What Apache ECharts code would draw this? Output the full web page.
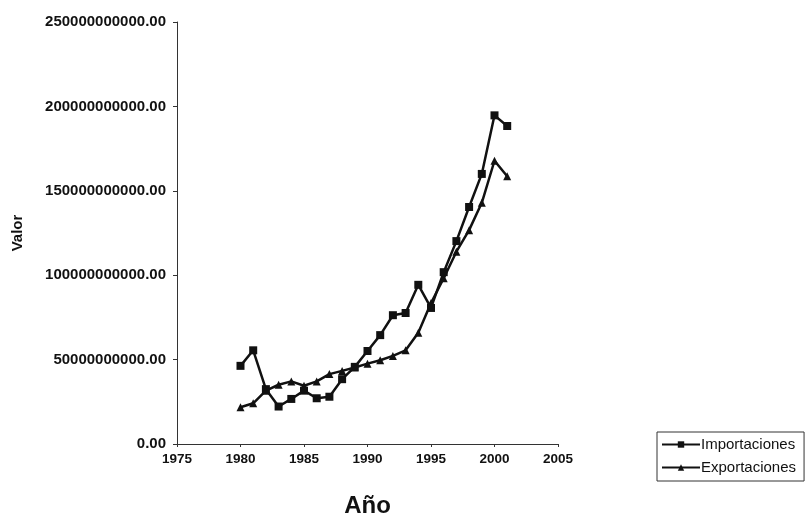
<!DOCTYPE html>
<html>
<head>
<meta charset="utf-8">
<script src="https://cdn.jsdelivr.net/npm/echarts@6/dist/echarts.min.js"></script>
<style>
  html, body { margin: 0; padding: 0; background: #fff; }
  #main { width: 809px; height: 523px; }
</style>
</head>
<body>
<div id="main"></div>
<script>
// data (billions)
const years = [1980, 1981, 1982, 1983, 1984, 1985, 1986, 1987, 1988, 1989, 1990,
  1991, 1992, 1993, 1994, 1995, 1996, 1997, 1998, 1999, 2000, 2001]
const importaciones = [46.3, 55.5, 32.5, 22.2, 26.7, 31.6, 27.1, 28.0, 38.4, 45.7, 55.1,
  64.5, 76.3, 77.6, 94.3, 80.6, 101.8, 120.2, 140.4, 160.0, 194.7, 188.4]
const exportaciones = [21.8, 24.1, 31.6, 35.1, 37.1, 34.5, 37.1, 41.4, 43.3, 45.3, 47.6,
  49.6, 52.2, 55.5, 65.9, 83.5, 98.2, 113.9, 126.7, 142.9, 167.8, 158.6]

const toPoints = vals => years.map((y, i) => [y, vals[i] * 1e9])

const font = "Arial, 'Liberation Sans', sans-serif"

const options = {
  animation: false,
  backgroundColor: "#fff",
  grid: { left: 177, right: 251, top: 22, bottom: 76 },
  xAxis: {
    type: "value",
    min: 1975, max: 2005, interval: 5,
    name: "Año",
    nameLocation: "middle",
    nameGap: 50,
    nameTextStyle: { fontFamily: font, fontSize: 24, fontWeight: "bold", color: "#111" },
    axisLine: { lineStyle: { color: "#333", width: 1 } },
    axisTick: { show: true, length: 3, inside: false, lineStyle: { color: "#333" } },
    splitLine: { show: false },
    axisLabel: {
      fontFamily: font, fontSize: 13.5, fontWeight: "bold", color: "#111", margin: 8,
      formatter: v => String(v)
    }
  },
  yAxis: {
    type: "value",
    min: 0, max: 250e9, interval: 50e9,
    name: "Valor",
    nameLocation: "middle",
    nameGap: 152,
    nameTextStyle: { fontFamily: font, fontSize: 15, fontWeight: "bold", color: "#111" },
    axisLine: { show: true, lineStyle: { color: "#333", width: 1 } },
    axisTick: { show: true, length: 4, lineStyle: { color: "#333" } },
    splitLine: { show: false },
    axisLabel: {
      fontFamily: font, fontSize: 15, fontWeight: "bold", color: "#111", margin: 11,
      formatter: v => v.toFixed(2)
    }
  },
  legend: {
    orient: "vertical",
    left: 657, top: 432,
    padding: [5, 8, 6, 4],
    itemGap: 8,
    itemWidth: 38, itemHeight: 8,
    borderColor: "#333", borderWidth: 1,
    textStyle: { fontFamily: font, fontSize: 15, color: "#111", padding: [0, 0, 0, -4] },
    data: ["Importaciones", "Exportaciones"]
  },
  series: [
    {
      name: "Importaciones",
      type: "line",
      data: toPoints(importaciones),
      symbol: "rect",
      symbolSize: 8,
      lineStyle: { color: "#111", width: 2.5 },
      itemStyle: { color: "#111" }
    },
    {
      name: "Exportaciones",
      type: "line",
      data: toPoints(exportaciones),
      symbol: "triangle",
      symbolSize: 8,
      lineStyle: { color: "#111", width: 2.5 },
      itemStyle: { color: "#111" }
    }
  ]
}

const myChart = echarts.init(document.getElementById("main"))
myChart.setOption(options)
window.onresize = () => myChart.resize()
</script>
</body>
</html>
